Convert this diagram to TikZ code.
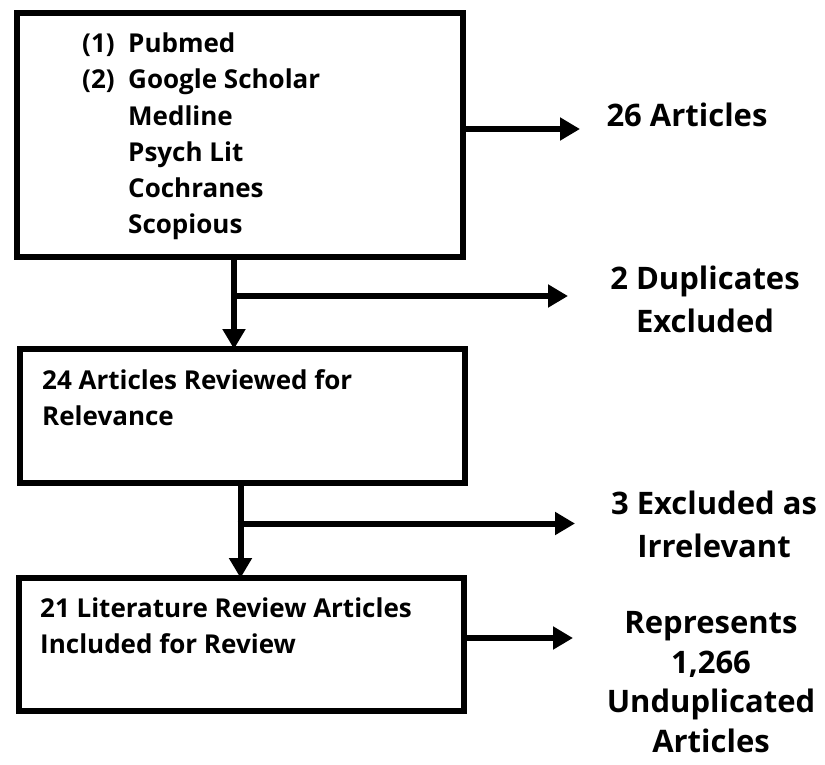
\documentclass[tikz,border=0pt]{standalone}
\usepackage{fontspec}
\setmainfont{Open Sans}
\usetikzlibrary{arrows.meta}
\begin{document}
\begin{tikzpicture}[x=1pt,y=-1pt,
  box/.style={draw=black, line width=6pt, rectangle, inner sep=0pt, fill=white},
  conn/.style={line width=6pt, -{Triangle[length=20pt,width=22pt]}},
  bline/.style={anchor=base west, inner sep=0pt, font=\fontsize{26}{36}\selectfont\bfseries},
  side/.style={anchor=base, inner sep=0pt, align=center, font=\fontsize{31}{43}\selectfont\bfseries}]
\useasboundingbox[fill=white] (0,0) rectangle (825,764);

% boxes
\node[box, minimum width=446pt, minimum height=244pt] (b1) at (239.5,134.5) {};
\node[box, minimum width=445pt, minimum height=134pt] (b2) at (242.5,416) {};
\node[box, minimum width=445pt, minimum height=133pt] (b3) at (241.5,644.5) {};

% box 1 text
\node[bline] (n1) at (82,52) {(1)};
\node[bline] (s1) at (128,52) {Pubmed};
\node[bline] (n2) at (82,88) {(2)};
\node[bline] (s2) at (128,88) {Google Scholar};
\node[bline] (s3) at (128,125) {Medline};
\node[bline] (s4) at (128,161) {Psych Lit};
\node[bline] (s5) at (128,197) {Cochranes};
\node[bline] (s6) at (128,233) {Scopious};

% box 2 and 3 text (base anchor = last line)
\node[bline, align=left] (t2) at (42,425) {24 Articles Reviewed for\\Relevance};
\node[bline, align=left] (t3) at (40,653) {21 Literature Review Articles\\Included for Review};

% side texts (base anchor = last line)
\node[side] (r1) at (687,126) {26 Articles};
\node[side] (r2) at (705,332) {2 Duplicates\\Excluded};
\node[side] (r3) at (714,557) {3 Excluded as\\Irrelevant};
\node[side, font=\fontsize{31}{39.5}\selectfont\bfseries] (r4) at (711,752) {Represents\\1,266\\Unduplicated\\Articles};

% connector coordinates
\coordinate (a1) at (580,129);
\coordinate (v1) at (234,296);
\coordinate (a2) at (568,296);
\coordinate (v2) at (240.5,523.5);
\coordinate (a3) at (575,523.5);
\coordinate (a4) at (573,638);

% connectors
\draw[conn] (b1.east |- a1) -- (a1);
\draw[conn] (v1 |- b1.south) -- ([yshift=-3pt]v1 |- b2.north);
\draw[conn] ([xshift=-3pt]v1) -- (a2);
\draw[conn] (v2 |- b2.south) -- ([yshift=-3pt]v2 |- b3.north);
\draw[conn] ([xshift=-3pt]v2) -- (a3);
\draw[conn] (b3.east |- a4) -- (a4);
\end{tikzpicture}
\end{document}
